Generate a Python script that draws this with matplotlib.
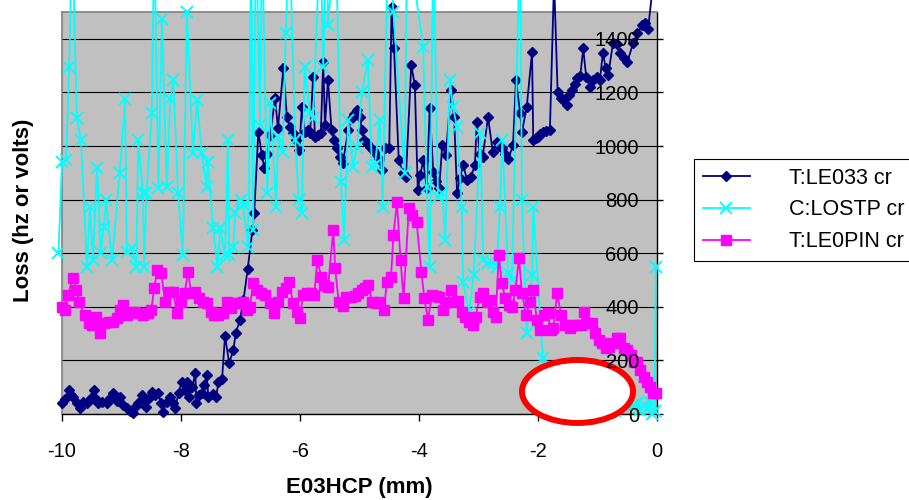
import matplotlib
matplotlib.use("Agg")
import matplotlib.pyplot as plt
import matplotlib.transforms as mtransforms
from matplotlib.patches import Ellipse

plt.rcParams["font.family"] = ["Liberation Sans", "DejaVu Sans"]
plt.rcParams["axes.unicode_minus"] = False

# T:LE033 cr
blue_x = [-10.0, -9.95, -9.89, -9.85, -9.81, -9.75, -9.70, -9.64, -9.58, -9.52,
          -9.47, -9.43, -9.39, -9.32, -9.25, -9.20, -9.14, -9.08, -9.03, -8.97,
          -8.91, -8.86, -8.81, -8.76, -8.72, -8.66, -8.61, -8.58, -8.53, -8.49,
          -8.43, -8.38, -8.34, -8.30, -8.24, -8.18, -8.14, -8.10, -8.04, -7.99,
          -7.94, -7.90, -7.86, -7.81, -7.76, -7.74, -7.69, -7.65, -7.61, -7.57,
          -7.54, -7.47, -7.41, -7.37, -7.31, -7.26, -7.19, -7.12, -7.08, -7.01,
          -6.95, -6.88, -6.80, -6.77, -6.70, -6.64, -6.60, -6.55, -6.50, -6.42,
          -6.37, -6.28, -6.22, -6.17, -6.12, -6.06, -6.01, -5.97, -5.92, -5.87,
          -5.83, -5.78, -5.75, -5.70, -5.65, -5.61, -5.58, -5.53, -5.47, -5.43,
          -5.38, -5.33, -5.28, -5.19, -5.14, -5.09, -5.04, -4.99, -4.96, -4.92,
          -4.87, -4.82, -4.78, -4.74, -4.68, -4.62, -4.57, -4.50, -4.46, -4.42,
          -4.34, -4.27, -4.22, -4.13, -4.07, -4.02, -3.98, -3.93, -3.87, -3.82,
          -3.76, -3.71, -3.66, -3.61, -3.55, -3.46, -3.41, -3.36, -3.31, -3.26,
          -3.19, -3.13, -3.06, -3.03, -2.98, -2.93, -2.84, -2.76, -2.69, -2.65,
          -2.61, -2.55, -2.50, -2.42, -2.37, -2.30, -2.27, -2.19, -2.10, -2.08,
          -2.04, -2.00, -1.96, -1.92, -1.86, -1.80, -1.73, -1.67, -1.62, -1.58,
          -1.52, -1.48, -1.43, -1.38, -1.34, -1.29, -1.24, -1.19, -1.13, -1.07,
          -1.01, -0.96, -0.91, -0.86, -0.82, -0.74, -0.68, -0.62, -0.56, -0.50,
          -0.40, -0.33, -0.25, -0.20, -0.15, -0.05]
blue_y = [40, 55, 90, 70, 65, 40, 21, 45, 40, 60,
          90, 55, 40, 45, 40, 60, 77, 50, 65, 35,
          21, 12, 4, 30, 40, 70, 52, 27, 60, 83,
          70, 77, 40, 8, 45, 65, 40, 21, 80, 118,
          90, 118, 65, 100, 152, 40, 70, 77, 110, 145,
          65, 75, 65, 118, 130, 291, 190, 239, 302, 351,
          425, 540, 686, 750, 1052, 966, 918, 970, 1040, 1178,
          1066, 1290, 1108, 1071, 1048, 1022, 985, 1145, 1052, 1060,
          1048, 1257, 1033, 1040, 1050, 1313, 1078, 1246, 1060, 1022,
          992, 960, 936, 1059, 1100, 1120, 1134, 1108, 1060, 1022,
          1010, 996, 985, 973, 950, 910, 992, 992, 1520, 1365,
          947, 900, 884, 1302, 1227, 835, 890, 947, 843, 1141,
          903, 870, 843, 1003, 966, 1208, 1108, 824, 880, 929,
          873, 884, 929, 1089, 970, 959, 1108, 977, 1015, 1000,
          992, 970, 951, 1003, 1246, 1123, 1052, 1145, 1350, 1022,
          1030, 1033, 1045, 1052, 1055, 1059, 1620, 1201, 1180, 1171,
          1153, 1190, 1208, 1230, 1253, 1260, 1365, 1257, 1220, 1245,
          1257, 1246, 1346, 1290, 1265, 1384, 1380, 1346, 1330, 1313,
          1384, 1420, 1451, 1458, 1436, 1640]

# C:LOSTP cr
cyan_x = [-10.06, -10.0, -9.93, -9.88, -9.83, -9.75, -9.68, -9.58, -9.53, -9.48,
          -9.41, -9.35, -9.30, -9.26, -9.16, -9.03, -8.94, -8.91, -8.82, -8.75,
          -8.72, -8.64, -8.62, -8.58, -8.49, -8.45, -8.38, -8.32, -8.24, -8.18,
          -8.13, -8.05, -7.97, -7.90, -7.80, -7.73, -7.65, -7.57, -7.55, -7.46,
          -7.39, -7.34, -7.26, -7.21, -7.19, -7.12, -7.09, -7.00, -6.96, -6.87,
          -6.82, -6.79, -6.74, -6.67, -6.64, -6.55, -6.50, -6.40, -6.37, -6.29,
          -6.24, -6.18, -6.08, -6.02, -5.97, -5.92, -5.83, -5.78, -5.66, -5.61,
          -5.55, -5.53, -5.40, -5.31, -5.26, -5.19, -5.11, -5.04, -4.96, -4.86,
          -4.79, -4.74, -4.66, -4.61, -4.52, -4.43, -4.24, -4.20, -3.93, -3.87,
          -3.82, -3.76, -3.68, -3.61, -3.56, -3.48, -3.43, -3.36, -3.28, -3.26,
          -3.16, -3.08, -2.97, -2.92, -2.84, -2.76, -2.69, -2.64, -2.60, -2.50,
          -2.44, -2.30, -2.27, -2.19, -2.10, -2.08, -1.92, -1.80, -1.60, -1.30,
          -1.00, -0.70, -0.40, -0.33, -0.28, -0.22, -0.17, -0.12, -0.08, -0.04,
          -0.02]
cyan_y = [600, 940, 947, 1295, 1800, 1104, 1022, 548, 772, 574,
          917, 600, 697, 798, 574, 898, 1175, 604, 619, 548,
          1022, 824, 548, 824, 1123, 1800, 843, 1473, 847, 1175,
          1246, 824, 593, 1500, 973, 1171, 973, 847, 940, 694,
          548, 694, 593, 1022, 593, 623, 750, 798, 780, 623,
          1800, 686, 1800, 1078, 1800, 824, 1160, 772, 1033, 977,
          1421, 1800, 1022, 798, 750, 1295, 1123, 1104, 1800, 1295,
          1800, 1451, 1800, 866, 649, 1097, 921, 996, 1201, 1320,
          921, 929, 1097, 772, 1800, 1500, 899, 1800, 1369, 847,
          548, 1800, 809, 824, 649, 1246, 1145, 1071, 772, 492,
          380, 518, 1048, 574, 563, 563, 550, 772, 1022, 526,
          500, 1800, 798, 302, 518, 772, 209, 10, 20, 15,
          25, 10, 30, 40, 15, 35, 20, 45, 0, 10,
          548]

# T:LE0PIN cr
pink_x = [-10.0, -9.95, -9.90, -9.82, -9.76, -9.71, -9.62, -9.55, -9.50, -9.43,
          -9.36, -9.29, -9.21, -9.14, -9.08, -9.03, -8.97, -8.90, -8.84, -8.77,
          -8.70, -8.64, -8.56, -8.50, -8.45, -8.40, -8.33, -8.27, -8.20, -8.13,
          -8.07, -8.00, -7.94, -7.88, -7.83, -7.76, -7.70, -7.63, -7.56, -7.50,
          -7.44, -7.37, -7.30, -7.23, -7.16, -7.10, -7.03, -6.96, -6.89, -6.84,
          -6.79, -6.72, -6.65, -6.58, -6.51, -6.44, -6.37, -6.30, -6.23, -6.18,
          -6.12, -6.05, -6.00, -5.95, -5.88, -5.81, -5.76, -5.71, -5.64, -5.60,
          -5.53, -5.44, -5.41, -5.35, -5.28, -5.22, -5.15, -5.08, -5.03, -4.96,
          -4.90, -4.85, -4.79, -4.72, -4.65, -4.59, -4.54, -4.47, -4.43, -4.37,
          -4.31, -4.26, -4.17, -4.11, -4.04, -3.96, -3.91, -3.85, -3.78, -3.72,
          -3.66, -3.60, -3.53, -3.46, -3.40, -3.34, -3.28, -3.23, -3.16, -3.10,
          -3.05, -2.98, -2.92, -2.86, -2.81, -2.76, -2.71, -2.66, -2.61, -2.55,
          -2.49, -2.43, -2.38, -2.32, -2.27, -2.20, -2.14, -2.08, -2.02, -1.96,
          -1.90, -1.84, -1.78, -1.74, -1.68, -1.61, -1.54, -1.47, -1.41, -1.35,
          -1.28, -1.23, -1.17, -1.10, -1.04, -0.98, -0.92, -0.86, -0.80, -0.74,
          -0.68, -0.62, -0.56, -0.50, -0.44, -0.38, -0.33, -0.28, -0.22, -0.17,
          -0.12, -0.07, -0.02]
pink_y = [399, 388, 444, 507, 463, 418, 369, 339, 332, 362,
          302, 339, 343, 343, 358, 388, 407, 369, 380, 380,
          377, 369, 377, 388, 470, 537, 526, 418, 455, 455,
          377, 418, 451, 530, 451, 455, 433, 418, 414, 380,
          369, 369, 377, 418, 395, 414, 414, 418, 388, 400,
          489, 463, 451, 444, 414, 377, 418, 455, 470, 492,
          414, 380, 358, 444, 451, 451, 444, 574, 511, 481,
          474, 686, 544, 418, 403, 437, 437, 440, 451, 463,
          470, 481, 418, 414, 418, 388, 492, 511, 668, 791,
          574, 433, 768, 742, 716, 530, 433, 351, 444, 440,
          437, 388, 418, 463, 418, 420, 380, 362, 343, 332,
          362, 437, 451, 418, 425, 380, 362, 593, 489, 433,
          407, 399, 463, 582, 451, 369, 418, 463, 351, 313,
          369, 377, 313, 321, 451, 369, 332, 321, 332, 332,
          332, 380, 339, 339, 302, 276, 265, 246, 250, 265,
          283, 283, 246, 240, 220, 194, 194, 164, 138, 119,
          101, 80, 78]

series_names = ["T:LE033 cr", "C:LOSTP cr", "T:LE0PIN cr"]
x_ticks = [-10, -8, -6, -4, -2, 0]
y_ticks = [0, 200, 400, 600, 800, 1000, 1200, 1400]

fig = plt.figure(figsize=(9.09, 5.0), dpi=100)
ax = fig.add_axes([62 / 909, 86 / 500, 595 / 909, 402 / 500])
ax.set_facecolor("#C0C0C0")

l1, = ax.plot(blue_x, blue_y, color="#000080", lw=1.3, marker="D", ms=5.5,
              label=series_names[0], clip_on=False, zorder=3)
l2, = ax.plot(cyan_x, cyan_y, color="#00FFFF", lw=1.3, marker="x", ms=8.5, mew=1.4,
              label=series_names[1], clip_on=False, zorder=4)
l3, = ax.plot(pink_x, pink_y, color="#FF00FF", lw=1.3, marker="s", ms=6.5,
              label=series_names[2], clip_on=False, zorder=5)

# red circle annotation
ax.add_patch(Ellipse((-1.336, 84), 1.866, 235, facecolor="white", edgecolor="red",
                     lw=4.3, clip_on=False, zorder=10))

ax.set_xlim(-10, 0)
ax.set_ylim(0, 1500)
ax.set_xticks(x_ticks)
ax.set_yticks(y_ticks)
ax.set_axisbelow(True)
ax.yaxis.grid(True, color="black", lw=0.8)

for side in ["top", "left"]:
    ax.spines[side].set_color("#808080")
    ax.spines[side].set_linewidth(1.2)
for side in ["bottom", "right"]:
    ax.spines[side].set_color("black")
    ax.spines[side].set_linewidth(1.0)

# y axis sits at x=0 (right edge), labels inside the plot, above the ellipse
ax.yaxis.tick_right()
ax.tick_params(axis="y", direction="out", length=4, width=1, labelright=False)
lab_tr = mtransforms.offset_copy(ax.get_yaxis_transform(), fig=fig, x=-18, y=-2, units="dots")
for v in y_ticks:
    ax.text(1.0, v, str(v), transform=lab_tr, ha="right", va="center",
            fontsize=14.5, zorder=12, clip_on=False)
ax.tick_params(axis="x", direction="out", length=5, width=1, labelsize=14.5, pad=15)

ax.set_xlabel("E03HCP (mm)", fontsize=16, fontweight="bold")
ax.xaxis.set_label_coords(0.5, -0.157)
ax.set_ylabel("Loss (hz or volts)", fontsize=16, fontweight="bold")
ax.yaxis.set_label_position("left")
ax.yaxis.set_label_coords(-0.047, 0.507)

leg = fig.legend(handles=[l1, l2, l3], loc="upper left", bbox_to_anchor=(694 / 909, 341 / 500),
                 fontsize=15.5, frameon=True, fancybox=False, framealpha=1, edgecolor="black",
                 borderpad=0.4, handlelength=2.2, handletextpad=1.8, labelspacing=0.5,
                 borderaxespad=0, numpoints=1)
leg.get_frame().set_linewidth(0.8)

fig.savefig("out.png", dpi=100)
